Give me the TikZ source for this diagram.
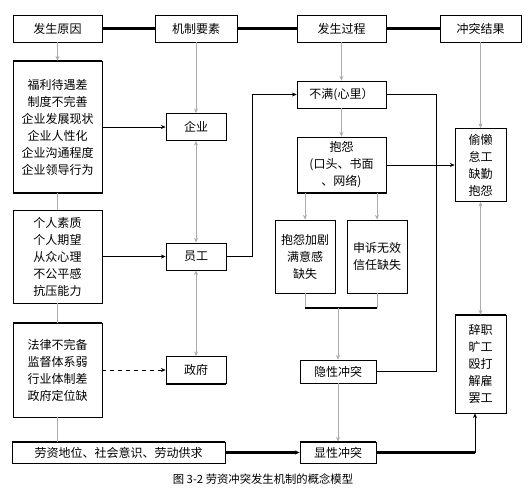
\documentclass[tikz,border=0pt]{standalone}
\usepackage{fontspec}
\setmainfont{Noto Sans CJK SC}
\usetikzlibrary{arrows.meta}

\begin{document}
\begin{tikzpicture}[x=0.75pt,y=0.75pt,yscale=-1,xscale=1,
    box/.style 2 args={draw,line width=0.6pt,inner sep=0pt,align=center,
        minimum width=#1*0.75pt,minimum height=#2*0.75pt,
        font=\fontsize{9}{12.75}\selectfont},
    bar/.style={line width=1.6pt},
    link/.style={draw=gray!65,line width=0.5pt},
    tip/.style={-{Stealth[length=3.5pt,width=3pt]}},
    tips/.style={{Stealth[length=3.5pt,width=3pt]}-{Stealth[length=3.5pt,width=3pt]}}]
        \useasboundingbox (0,0) rectangle (528,494);

        % header row
        \node[box={89}{27}] (yuanyin) at (57.5,28.5) {发生原因};
        \node[box={82}{27}] (yaosu) at (196,28.5) {机制要素};
        \node[box={89}{27}] (guocheng) at (341.5,28.5) {发生过程};
        \node[box={81}{27}] (jieguo) at (480.5,28.5) {冲突结果};

        % causes
        \node[box={89}{132}] (qiyeyin) at (57.5,127) {福利待遇差\\制度不完善\\企业发展现状\\企业人性化\\企业沟通程度\\企业领导行为};
        \node[box={89}{93}] (yuangongyin) at (57.5,256.5) {个人素质\\个人期望\\从众心理\\不公平感\\抗压能力};
        \node[box={89}{94}] (zhengfuyin) at (57.5,370) {法律不完备\\监督体系弱\\行业体制差\\政府定位缺};
        \node[box={213}{21}] (shehui) at (118.5,452.5) {劳资地位、社会意识、劳动供求};

        % mechanism
        \node[box={60}{27}] (qiye) at (196,127) {企业};
        \node[box={60}{27}] (yuangong) at (196,256.5) {员工};
        \node[box={60}{27}] (zhengfu) at (196,370) {政府};

        % process
        \node[box={89}{27}] (buman) at (341.5,94.5) {不满(心里）};
        \node[box={89}{56}] (baoyuan) at (341.5,165) {抱怨\\(口头、书面\\、网络)};
        \node[box={60}{73}] (jiaju) at (305,256.5) {抱怨加剧\\满意感\\缺失};
        \node[box={60}{73}] (shensu) at (377,256.5) {申诉无效\\信任缺失};
        \node[box={76}{23}] (yinxing) at (338,371.5) {隐性冲突};
        \node[box={76}{21}] (xianxing) at (338,452.5) {显性冲突};

        % results
        \node[box={51}{73}] (toulan) at (480.5,165) {偷懒\\怠工\\缺勤\\抱怨};
        \node[box={51}{98}] (cizhi) at (480.5,364) {辞职\\旷工\\殴打\\解雇\\罢工};

        \node[font=\fontsize{8.5}{10}\selectfont] (tizhu) at (263,479) {图 3-2 劳资冲突发生机制的概念模型};

        % thick edges
        \draw[bar] (qiyeyin.north west) -- (qiyeyin.north east);
        \draw[bar] (qiyeyin.south west) -- (qiyeyin.south east);
        \draw[bar] (zhengfuyin.north west) -- (zhengfuyin.north east);
        \draw[bar] (shehui.north west) -- (shehui.north east);
        \draw[bar] (zhengfu.south west) -- (zhengfu.south east);
        \draw[bar] (baoyuan.south west) -- (baoyuan.south east);
        \draw[bar] (xianxing.north west) -- (xianxing.north east);
        \draw[bar] (cizhi.north west) -- (cizhi.north east);

        % header links
        \draw[bar] (yuanyin) -- (yaosu);
        \draw[bar] (yaosu) -- (guocheng);
        \draw[bar] (guocheng) -- (jieguo);

        \draw[link,tip] (yuanyin) -- (qiyeyin);
        \draw[link] (qiyeyin) -- (yuangongyin);
        \draw[link] (yuangongyin) -- (zhengfuyin);
        \draw[link] (zhengfuyin) -- (zhengfuyin |- shehui.north);

        \draw[link,tip] (yaosu) -- (qiye);
        \draw[link,tips] (qiye) -- (yuangong);
        \draw[link,tips] (yuangong) -- (zhengfu);

        \draw[tip] (qiyeyin) -- (qiye);
        \draw[tip] (yuangongyin) -- (yuangong);
        \draw[tip,dashed] (zhengfuyin) -- (zhengfu);
        \draw[tip] (yuangong.east) -- ++(26,0) |- (buman.west);

        \draw[link,tip] (guocheng) -- (buman);
        \draw[link,tip] (buman) -- (baoyuan);
        \draw[tip] (baoyuan) -- (toulan);
        \draw (buman.east) -- ++(50,0) |- (yinxing.east);
        \draw[link,tip] (baoyuan.south -| jiaju) -- (jiaju);
        \draw[link,tip] (baoyuan.south -| shensu) -- (shensu);

        \coordinate (hui) at (338,308);
        \draw[link] (jiaju) -- (jiaju |- hui);
        \draw[link] (shensu) -- (shensu |- hui);
        \draw[bar] (jiaju |- hui) -- (shensu |- hui);
        \draw[link,tip] (hui) -- (yinxing);
        \draw[link,tip] (yinxing) -- (xianxing);
        \draw[bar,tip] (shehui) -- (xianxing);

        \coordinate (guai) at (475,452.5);
        \draw[bar] (xianxing) -- (guai);
        \draw[tip] (guai) -- (guai |- cizhi.south);
        \draw[link,tip] (jieguo) -- (toulan);
        \draw[link,tips] (toulan) -- (cizhi);
\end{tikzpicture}
\end{document}
